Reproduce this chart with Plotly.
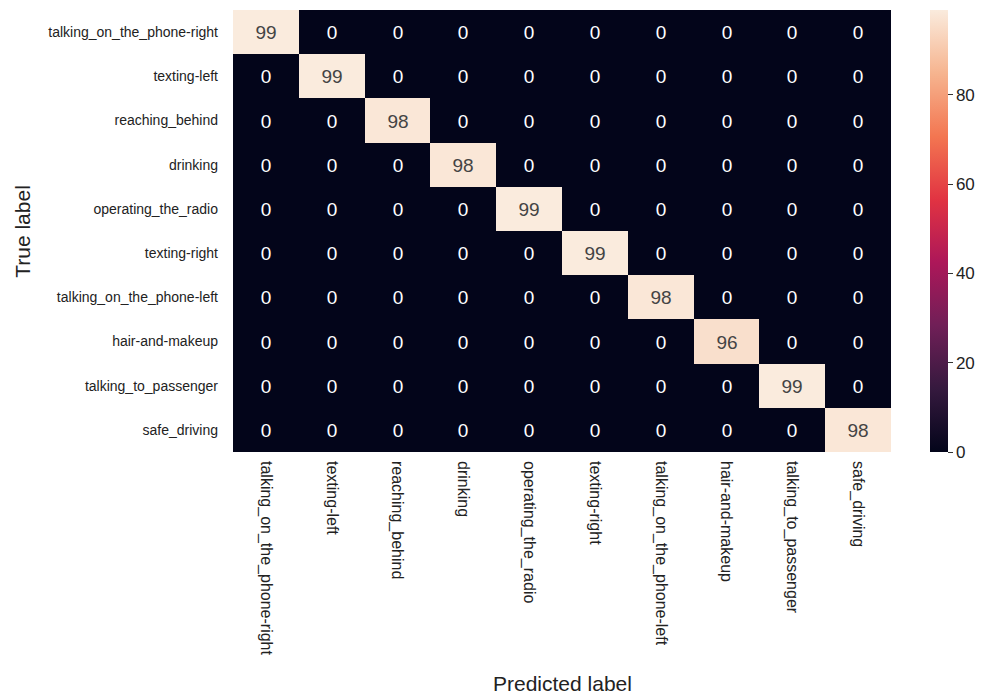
import plotly.graph_objects as go

labels = ["talking_on_the_phone-right", "texting-left", "reaching_behind", "drinking",
          "operating_the_radio", "texting-right", "talking_on_the_phone-left",
          "hair-and-makeup", "talking_to_passenger", "safe_driving"]
diag_values = [99, 99, 98, 98, 99, 99, 98, 96, 99, 98]
cbar_ticks = [0, 20, 40, 60, 80]

z = [[diag_values[i] if i == j else 0 for j in range(len(labels))] for i in range(len(labels))]

rocket = [
    [0.0, "#03051a"], [0.143, "#35193e"], [0.286, "#701f57"], [0.429, "#ad1759"],
    [0.571, "#e13342"], [0.714, "#f37651"], [0.857, "#f6b48f"], [1.0, "#faebdd"],
]

fig = go.Figure(go.Heatmap(
    z=z, x=labels, y=labels,
    colorscale=rocket, zmin=0, zmax=max(diag_values),
    texttemplate="%{z}", textfont=dict(size=19, family="Liberation Sans, Arial"),
    xgap=0, ygap=0,
    colorbar=dict(
        x=1.059, xanchor="left", y=0.5, yanchor="middle", len=1.0, lenmode="fraction",
        xpad=0, ypad=0,
        thickness=18, outlinewidth=0, tickvals=cbar_ticks, ticks="outside", ticklen=5,
        tickcolor="#333", tickfont=dict(size=17, color="#222", family="Liberation Sans, Arial"),
    ),
))

fig.update_layout(
    width=982, height=687,
    margin=dict(l=225, r=99, t=2, b=243, autoexpand=False),
    paper_bgcolor="white", plot_bgcolor="white",
    font=dict(family="Liberation Sans, Arial", color="#222"),
    xaxis=dict(tickangle=90, tickfont=dict(size=16, color="#222", family="Liberation Sans, Arial"), ticks="",
               ticklabelstandoff=8, showgrid=False, zeroline=False, side="bottom", automargin=False),
    yaxis=dict(autorange="reversed", tickfont=dict(size=14, color="#222", family="Liberation Sans, Arial"), ticks="",
               ticklabelstandoff=14, showgrid=False, zeroline=False, automargin=False),
    annotations=[
        dict(text="Predicted label", xref="paper", yref="paper", x=0.5, y=-0.523,
             showarrow=False, font=dict(size=21, color="#222"), xanchor="center", yanchor="middle"),
        dict(text="True label", xref="paper", yref="paper", x=-0.321, y=0.5, textangle=-90,
             showarrow=False, font=dict(size=21, color="#222"), xanchor="center", yanchor="middle"),
    ],
)

fig.write_html("out.html")
